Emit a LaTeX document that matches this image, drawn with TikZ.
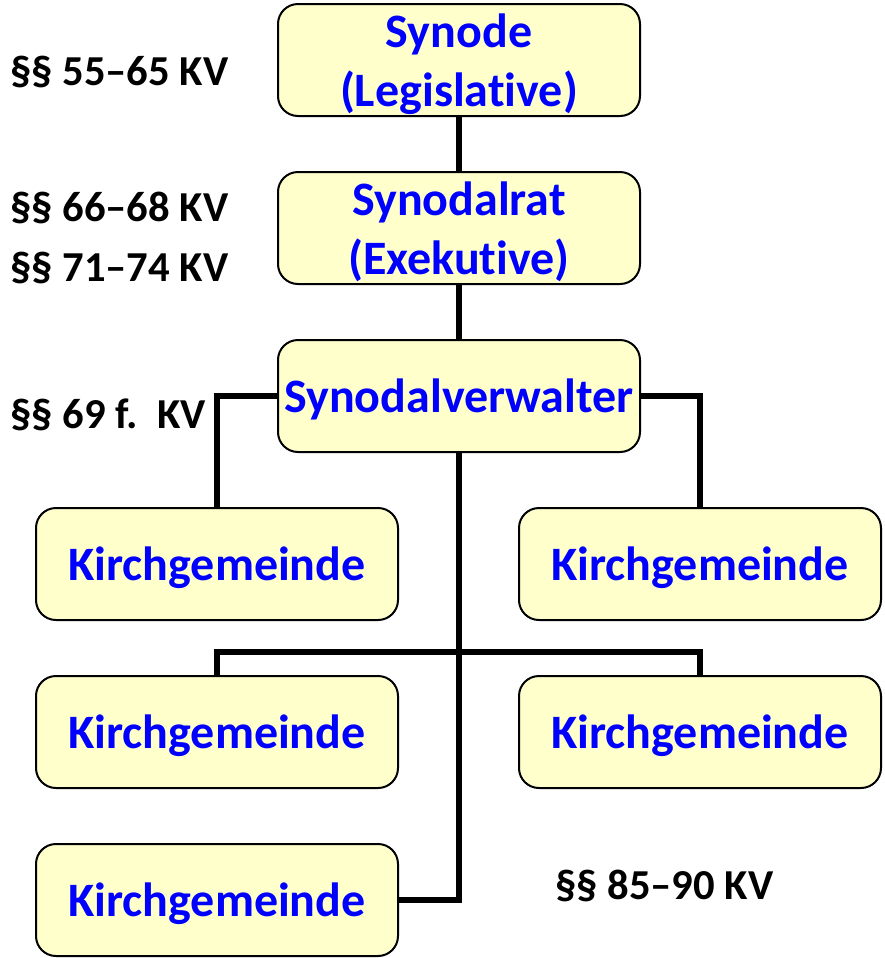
\documentclass[tikz,border=0pt]{standalone}
\usepackage{fontspec}
\setmainfont[Ligatures={TeX,NoCommon}]{Carlito}
\definecolor{boxfill}{HTML}{FFFFCC}
\definecolor{boxtext}{HTML}{0000FF}
\begin{document}
\begin{tikzpicture}[x=0.75pt,y=-0.75pt,
  orgbox/.style={draw=black, line width=1.5pt, fill=boxfill, rounded corners=15pt,
    minimum width=271.5pt, minimum height=84pt, inner sep=0pt, text depth=0pt,
    text=boxtext, font=\fontsize{36}{44}\selectfont\bfseries, align=center},
  conn/.style={line width=4.5pt},
  para/.style={font=\fontsize{32}{38}\selectfont\bfseries, anchor=west, inner sep=0pt}]
\useasboundingbox (0,0) rectangle (885,958);
\node[orgbox] (syn) at (459,60) {Synode\\(Legislative)};
\node[orgbox] (rat) at (459,228) {Synodalrat\\(Exekutive)};
\node[orgbox] (ver) at (459,396) {Synodalverwalter};
\node[orgbox] (k1) at (217,564) {Kirchgemeinde};
\node[orgbox] (k2) at (700,564) {Kirchgemeinde};
\node[orgbox] (k3) at (217,732) {Kirchgemeinde};
\node[orgbox] (k4) at (700,732) {Kirchgemeinde};
\node[orgbox] (k5) at (217,900) {Kirchgemeinde};
\coordinate (bar) at (459,652);
\draw[conn] (syn.south) -- (rat.north);
\draw[conn] (rat.south) -- (ver.north);
\draw[conn] (ver.west) -| (k1.north);
\draw[conn] (ver.east) -| (k2.north);
\draw[conn] (ver.south) |- (k5.east);
\draw[conn] (k3.north) |- (bar) -| (k4.north);
\node[para] (p1) at (10,72) {§§ 55–65 KV};
\node[para] (p2) at (10,208) {§§ 66–68 KV};
\node[para] (p3) at (10,268) {§§ 71–74 KV};
\node[para] (p4) at (10,415) {§§ 69 f.\ \ KV};
\node[para] (p5) at (555,886) {§§ 85–90 KV};
\end{tikzpicture}
\end{document}
